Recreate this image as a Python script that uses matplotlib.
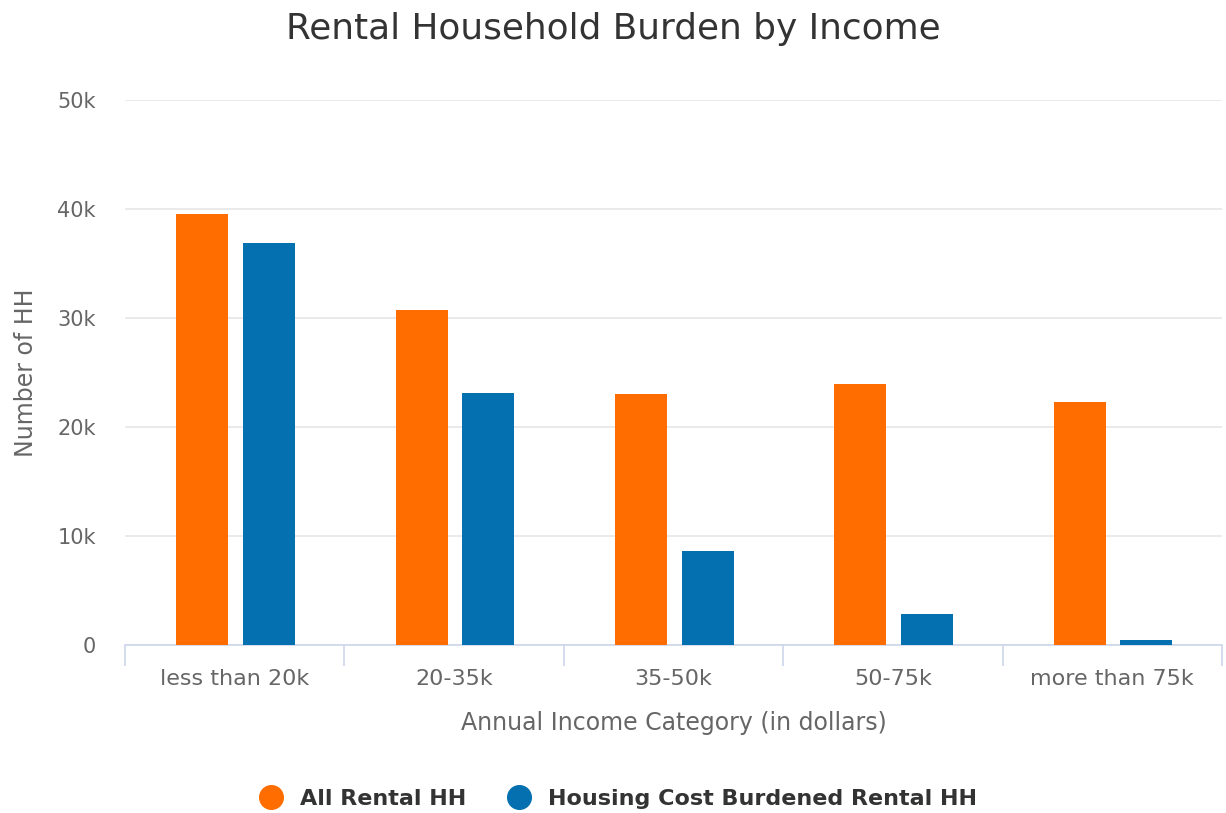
import matplotlib.pyplot as plt
import numpy as np
from matplotlib.ticker import FuncFormatter, FixedLocator

# data
categories = ['less than 20k', '20-35k', '35-50k', '50-75k', 'more than 75k']
all_rental = [39500, 30700, 23000, 23900, 22300]
burdened = [36900, 23100, 8600, 2850, 450]

orange = '#ff6d00'
blue = '#0570b0'

plt.rcParams['font.family'] = ['DejaVu Sans']

fig = plt.figure(figsize=(12.26, 8.13), dpi=100)
ax = fig.add_axes([0.102, 0.2067, 0.8947, 0.6703])

x = np.arange(len(categories))
w = 0.237
ax.bar(x - 0.148, all_rental, w, color=orange, label='All Rental HH', zorder=3)
ax.bar(x + 0.155, burdened, w, color=blue, label='Housing Cost Burdened Rental HH', zorder=3)

ax.set_xlim(-0.5, len(categories) - 0.5)
ax.set_ylim(0, 50000)
ax.set_yticks(np.arange(0, 50001, 10000))
ax.yaxis.set_major_formatter(FuncFormatter(lambda v, p: '0' if v == 0 else f'{int(v/1000)}k'))
ax.grid(axis='y', color='#e6e6e6', linewidth=1.2, zorder=0)

ax.set_xticks(x)
ax.set_xticklabels(categories)
ax.xaxis.set_minor_locator(FixedLocator(np.arange(-0.5, len(categories), 1)))
ax.tick_params(axis='x', which='major', length=0, pad=17, labelsize=16, labelcolor='#666666')
ax.tick_params(axis='x', which='minor', length=15, width=1.2, color='#ccd6eb')
ax.tick_params(axis='y', length=0, pad=21, labelsize=15, labelcolor='#666666')

for s in ['top', 'right', 'left']:
    ax.spines[s].set_visible(False)
ax.spines['bottom'].set_color('#ccd6eb')
ax.spines['bottom'].set_linewidth(1.2)

ax.set_xlabel('Annual Income Category (in dollars)', fontsize=17, color='#666666', labelpad=16)
ax.set_ylabel('Number of HH', fontsize=17, color='#666666', labelpad=14)

fig.suptitle('Rental Household Burden by Income', fontsize=25.8, color='#333333', y=0.985)

leg = fig.legend(loc='lower center', bbox_to_anchor=(0.5, -0.02), ncol=2, frameon=False,
                 handles=[plt.Line2D([], [], marker='o', linestyle='', markersize=17, color=orange),
                          plt.Line2D([], [], marker='o', linestyle='', markersize=17, color=blue)],
                 labels=['All Rental HH', 'Housing Cost Burdened Rental HH'],
                 prop={'weight': 'bold', 'size': 16}, handletextpad=0.3, columnspacing=1.4)
for t in leg.get_texts():
    t.set_color('#333333')

fig.savefig('out.png', dpi=100)
